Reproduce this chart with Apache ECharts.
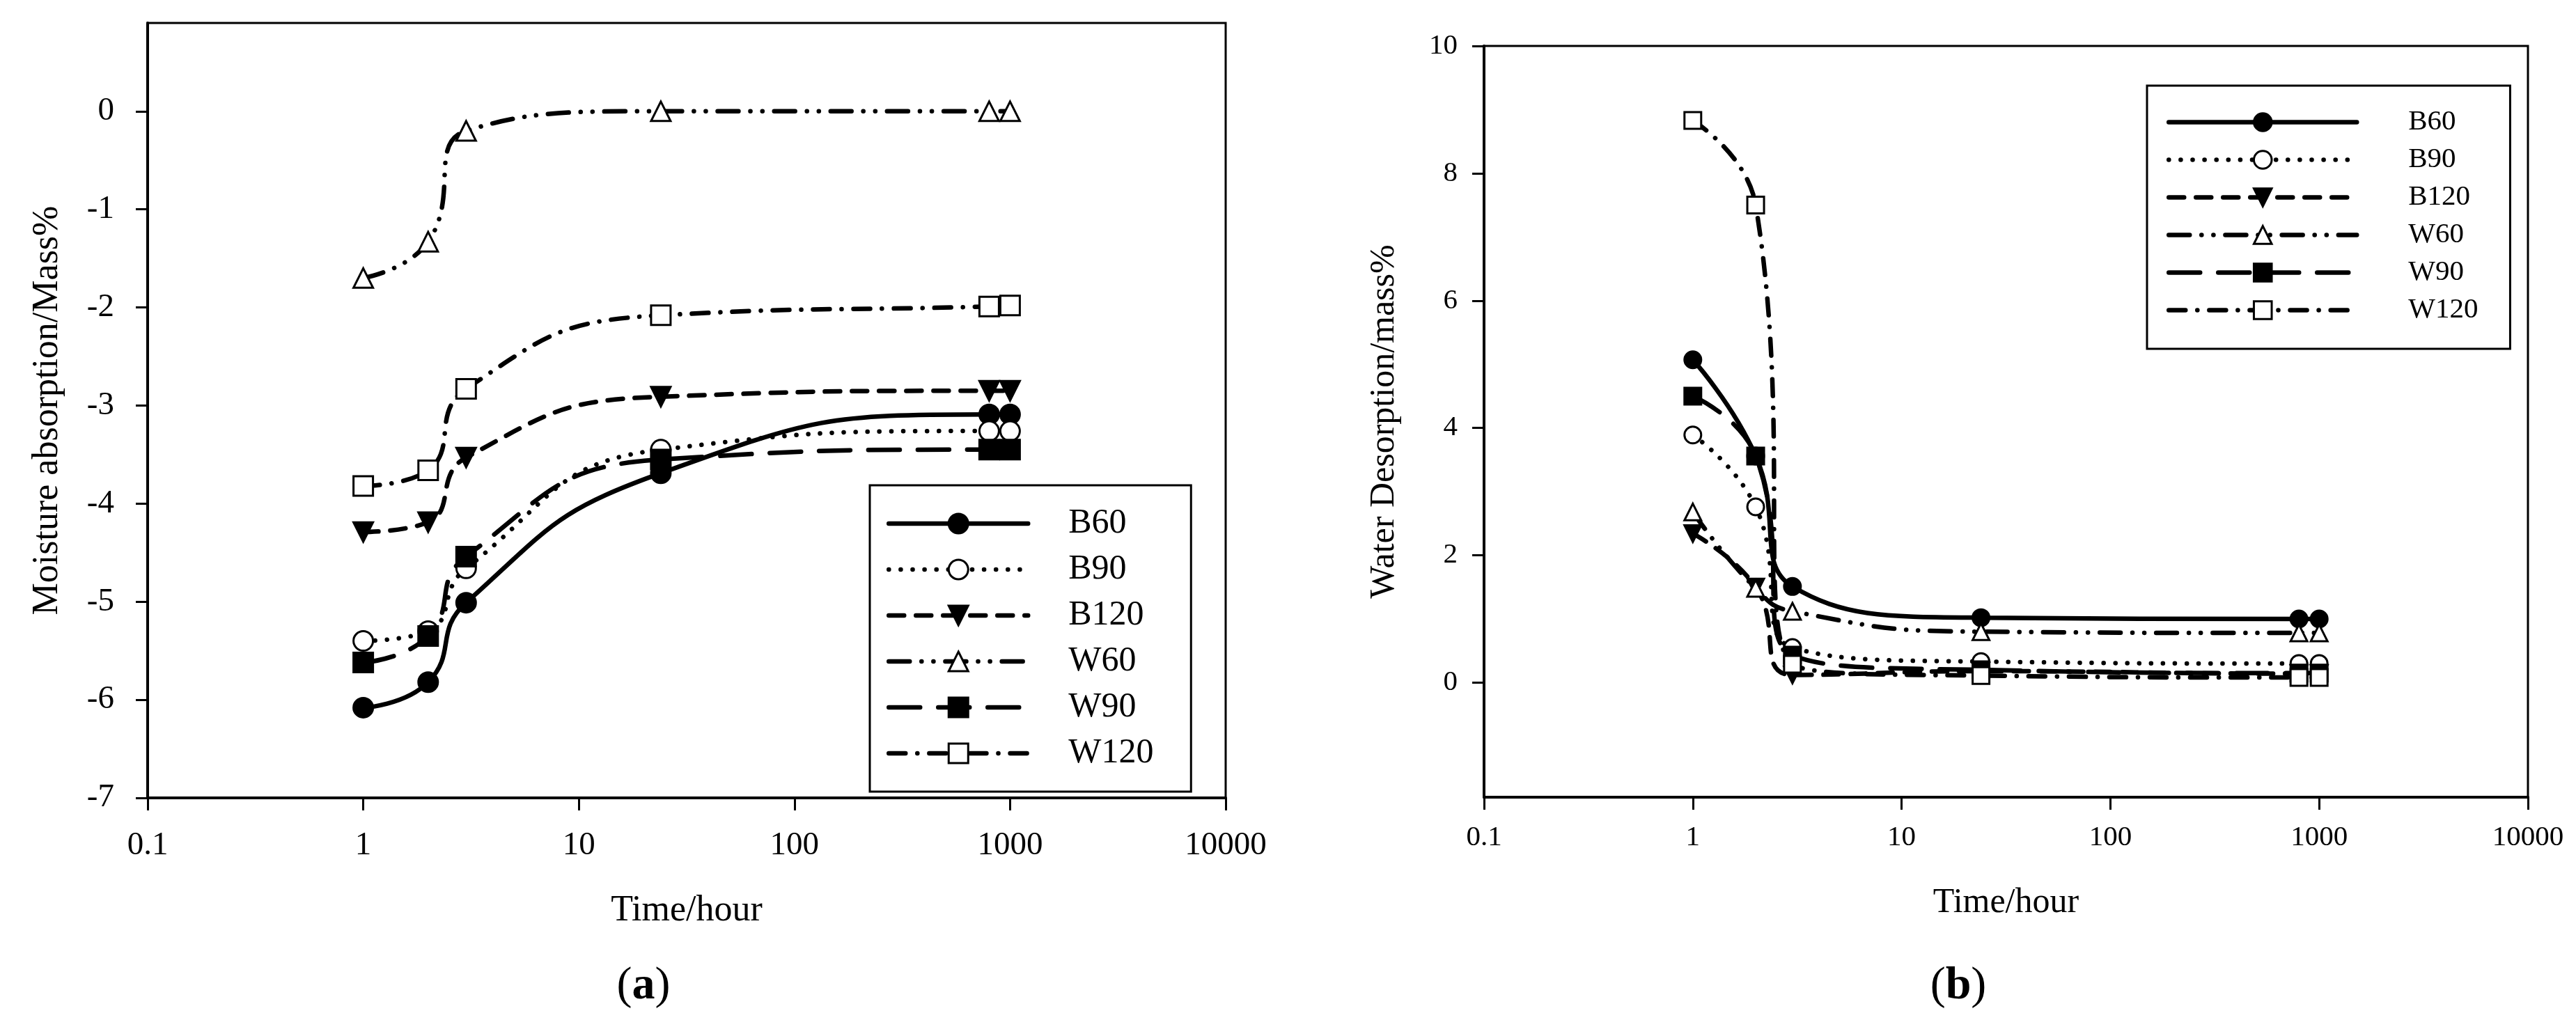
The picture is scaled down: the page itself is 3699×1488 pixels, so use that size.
<!DOCTYPE html>
<html><head><meta charset="utf-8">
<script src="https://cdn.jsdelivr.net/npm/echarts/dist/echarts.min.js"></script>
<style>html,body{margin:0;padding:0;background:#fff}#c{width:3699px;height:1488px}</style>
</head><body><div id="c"></div>
<script>
// ---- data ----
const hours = [1, 2, 3, 24, 800, 1000];
const seriesNames = ['B60', 'B90', 'B120', 'W60', 'W90', 'W120'];
// (a) Moisture absorption / Mass%
const absB60  = [-6.08, -5.82, -5.01, -3.69, -3.09, -3.09];
const absB90  = [-5.40, -5.30, -4.66, -3.45, -3.26, -3.26];
const absB120 = [-4.29, -4.19, -3.53, -2.91, -2.85, -2.85];
const absW60  = [-1.70, -1.33, -0.20, 0.00, 0.00, 0.00];
const absW90  = [-5.62, -5.35, -4.54, -3.55, -3.45, -3.45];
const absW120 = [-3.82, -3.66, -2.83, -2.08, -1.99, -1.98];
// (b) Water Desorption / mass%
const desB60  = [5.07, 3.56, 1.51, 1.02, 1.00, 1.00];
const desB90  = [3.89, 2.76, 0.55, 0.33, 0.30, 0.30];
const desB120 = [2.34, 1.50, 0.12, 0.18, 0.14, 0.14];
const desW60  = [2.68, 1.48, 1.12, 0.80, 0.78, 0.78];
const desW90  = [4.50, 3.56, 0.43, 0.20, 0.15, 0.15];
const desW120 = [8.83, 7.50, 0.29, 0.11, 0.08, 0.08];
const yTicksA = [-7, -6, -5, -4, -3, -2, -1, 0];
const yTicksB = [0, 2, 4, 6, 8, 10];

// ---- styles ----
const FONT = 'Liberation Serif';
const LW = 6.5;
const styles = {
  B60:  {symbol: 'circle',   rotate: 0,   fill: '#000', dash: 'solid'},
  B90:  {symbol: 'circle',   rotate: 0,   fill: '#fff', dash: [0.1, 17]},
  B120: {symbol: 'triangle', rotate: 180, fill: '#000', dash: [22, 17]},
  W60:  {symbol: 'triangle', rotate: 0,   fill: '#fff', dash: [30, 17, 0.1, 17, 0.1, 17]},
  W90:  {symbol: 'rect',     rotate: 0,   fill: '#000', dash: [45, 26]},
  W120: {symbol: 'rect',     rotate: 0,   fill: '#fff', dash: [24, 17, 0.1, 17]}
};
const absData = [absB60, absB90, absB120, absW60, absW90, absW120];
const desData = [desB60, desB90, desB120, desW60, desW90, desW120];

function mk(name, vals, idx, size) {
  const s = styles[name];
  return {
    type: 'line', name: name, xAxisIndex: idx, yAxisIndex: idx,
    data: hours.map((h, i) => [h, vals[i]]),
    smooth: 0.5, symbol: s.symbol, symbolRotate: s.rotate, symbolSize: size,
    showSymbol: true, animation: false, silent: true,
    lineStyle: {color: '#000', width: LW, type: s.dash, cap: 'round'},
    itemStyle: {color: s.fill, borderColor: '#000', borderWidth: 3, opacity: 1}
  };
}
const series = [];
seriesNames.forEach((n, i) => series.push(mk(n, absData[i], 0, 28)));
seriesNames.forEach((n, i) => series.push(mk(n, desData[i], 1, 24)));

function xAx(idx, fs, margin, nameGap, nfs) {
  return {
    gridIndex: idx, type: 'log', logBase: 10, min: 0.1, max: 10000,
    axisLine: {onZero: false, lineStyle: {color: '#000', width: 4}},
    axisTick: {inside: false, length: 18, lineStyle: {color: '#000', width: 3}},
    minorTick: {show: false}, splitLine: {show: false},
    axisLabel: {color: '#000', fontFamily: FONT, fontSize: fs, margin: margin,
      formatter: v => String(+v.toPrecision(6))},
    name: 'Time/hour', nameLocation: 'middle', nameGap: nameGap,
    nameTextStyle: {color: '#000', fontFamily: FONT, fontSize: nfs}
  };
}
function yAx(idx, min, max, ticks, fs, margin, name, nameGap, nfs) {
  return {
    gridIndex: idx, type: 'value', min: min, max: max,
    axisLine: {show: true, onZero: false, lineStyle: {color: '#000', width: 4}},
    axisTick: {show: true, inside: false, length: 17, customValues: ticks, lineStyle: {color: '#000', width: 3}},
    splitLine: {show: false},
    axisLabel: {color: '#000', fontFamily: FONT, fontSize: fs, margin: margin, customValues: ticks},
    name: name, nameLocation: 'middle', nameGap: nameGap,
    nameTextStyle: {color: '#000', fontFamily: FONT, fontSize: nfs}
  };
}

const chart = echarts.init(document.getElementById('c'), null, {renderer: 'canvas'});
chart.setOption({
  backgroundColor: '#fff',
  animation: false,
  grid: [
    {left: 212, top: 33, width: 1548, height: 1113, show: true, borderColor: '#000', borderWidth: 3, outerBoundsMode: 'none', containLabel: false},
    {left: 2131, top: 66, width: 1499, height: 1079, show: true, borderColor: '#000', borderWidth: 3, outerBoundsMode: 'none', containLabel: false}
  ],
  xAxis: [xAx(0, 47, 45, 136, 52), xAx(1, 41, 38, 127, 50)],
  yAxis: [
    yAx(0, -7, 0.9, yTicksA, 47, 48, 'Moisture absorption/Mass%', 118, 52),
    yAx(1, -1.8, 10, yTicksB, 41, 38, 'Water Desorption/mass%', 118, 50)
  ],
  legend: [
    {left: 1249, top: 697, orient: 'vertical', data: seriesNames, itemWidth: 200, itemHeight: 35, itemGap: 16,
     padding: [30, 46, 30, 24], borderColor: '#000', borderWidth: 3, backgroundColor: '#fff', selectedMode: false,
     lineStyle: {width: LW, color: '#000'}, itemStyle: {borderColor: '#000', borderWidth: 3},
     textStyle: {color: '#000', fontFamily: FONT, fontSize: 50, lineHeight: 50, padding: [0, 0, 0, 53], width: 130}},
    {left: 3083, top: 123, orient: 'vertical', data: seriesNames, itemWidth: 270, itemHeight: 32, itemGap: 13,
     padding: [32, 46, 35, 28], borderColor: '#000', borderWidth: 3, backgroundColor: '#fff', selectedMode: false,
     lineStyle: {width: LW, color: '#000'}, itemStyle: {borderColor: '#000', borderWidth: 3},
     textStyle: {color: '#000', fontFamily: FONT, fontSize: 41, lineHeight: 41, padding: [0, 0, 0, 69], width: 100}}
  ],
  graphic: [
    {type: 'text', x: 924, y: 1417, style: {text: '{p|(}{b|a}{p|)}', textAlign: 'center', textVerticalAlign: 'middle',
      rich: {p: {fontFamily: FONT, fontSize: 66, fill: '#000'}, b: {fontFamily: FONT, fontSize: 66, fontWeight: 'bold', fill: '#000'}}}},
    {type: 'text', x: 2812, y: 1417, style: {text: '{p|(}{b|b}{p|)}', textAlign: 'center', textVerticalAlign: 'middle',
      rich: {p: {fontFamily: FONT, fontSize: 66, fill: '#000'}, b: {fontFamily: FONT, fontSize: 66, fontWeight: 'bold', fill: '#000'}}}}
  ],
  series: series
});
</script></body></html>
